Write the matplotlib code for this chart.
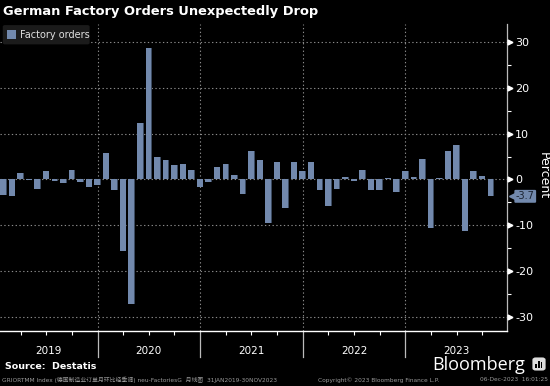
import matplotlib
matplotlib.use("Agg")
import matplotlib.pyplot as plt
import matplotlib.transforms as mtransforms
from matplotlib.patches import FancyBboxPatch, Rectangle
import numpy as np

# ---------------- data ----------------
values = [
    # 2019
    -3.5, -3.6, 1.4, -0.2, -2.1, 1.8, -0.4, -0.8, 2.1, -0.6, -1.6, -1.2,
    # 2020
    5.8, -2.3, -15.7, -27.3, 12.3, 28.7, 4.9, 4.2, 3.2, 3.4, 2.1, -1.6,
    # 2021
    -0.6, 2.7, 3.4, 1.0, -3.2, 6.2, 4.2, -9.5, 3.8, -6.3, 3.8, 1.8,
    # 2022
    3.8, -2.3, -5.8, -2.1, 0.5, -0.3, 2.1, -2.3, -2.3, 0.2, -2.8, 1.8,
    # 2023
    0.5, 4.4, -10.6, 0.2, 6.2, 7.5, -11.3, 1.8, 0.7, -3.7,
]
years = ["2019", "2020", "2021", "2022", "2023"]
y_ticks = [30, 20, 10, 0, -10, -20, -30]
y_minor = [25, 15, 5, -5, -15, -25]
last_label = "-3.7"

title = "German Factory Orders Unexpectedly Drop"
legend_label = "Factory orders"
source = "Source:  Destatis"
footer_left = "GRIORTMM Index (德国制造业订单月环比经季调) neu-FactoriesG  月线图  31JAN2019-30NOV2023"
footer_mid = "Copyright\u00a9 2023 Bloomberg Finance L.P."
footer_right = "06-Dec-2023  16:01:25"

# ---------------- style ----------------
BG = "black"
BAR = "#7289ad"
FG = "white"
GRID = "#8a8a8a"

fig = plt.figure(figsize=(5.5, 3.86), dpi=100, facecolor=BG)
ax = fig.add_axes([0.0, 0.1433, 0.9218, 0.7945], facecolor=BG)

x = np.arange(len(values))
ax.bar(x, values, width=0.76, color=BAR, edgecolor="none", zorder=3)
# subtle dark right-edge shadow as in the original
ax.bar(x + 0.34, values, width=0.08, color="#3b4a60", edgecolor="none", zorder=3.1)

ax.set_xlim(-0.41, 58.9)
ax.set_ylim(-33.1, 34.0)

# grid
for yt in y_ticks:
    ax.axhline(yt, color=GRID, lw=0.8, ls=(0, (1.2, 2.2)), zorder=1)
for k in range(1, len(years)):
    ax.axvline(12 * k - 1, color=GRID, lw=0.8, ls=(0, (1.2, 2.2)), zorder=1)

# spines
for s in ["top", "left"]:
    ax.spines[s].set_visible(False)
ax.spines["right"].set_color("#bbbbbb")
ax.spines["right"].set_linewidth(0.9)
ax.spines["bottom"].set_color(FG)
ax.spines["bottom"].set_linewidth(1.0)

# y axis on right
ax.yaxis.tick_right()
ax.set_yticks(y_ticks)
ax.set_yticklabels([str(v) for v in y_ticks])
ax.set_yticks(y_minor, minor=True)
ax.tick_params(axis="y", which="major", length=0, pad=6, labelsize=8, labelcolor=FG)
ax.tick_params(axis="y", which="minor", length=3, width=0.8, color=FG, direction="out")
trans_y = mtransforms.blended_transform_factory(ax.transAxes, ax.transData)
ax.plot([1.005] * len(y_ticks), y_ticks, ls="none", marker=">", ms=3.5, color=FG,
        transform=trans_y, clip_on=False, zorder=5)

# x axis: quarterly minor ticks, year separators
ax.set_xticks([])
q_ticks = [3 * q - 1 for q in range(1, 21) if (3 * q - 1) <= 58.9 and (3 * q) % 12 != 0]
ax.set_xticks(q_ticks, minor=True)
ax.tick_params(axis="x", which="minor", length=3, width=0.8, color=FG, direction="out")
trans_x = mtransforms.blended_transform_factory(ax.transData, ax.transAxes)
for k in range(1, len(years)):
    ax.plot([12 * k - 1, 12 * k - 1], [0, -0.085], color="#bbbbbb", lw=0.9,
            transform=trans_x, clip_on=False)
xmin, xmax = ax.get_xlim()
for k, yr in enumerate(years):
    lo = max(12 * k - 1, xmin)
    hi = min(12 * k + 11, xmax)
    ax.text((lo + hi) / 2, -0.065, yr, transform=trans_x, ha="center", va="center",
            color=FG, fontsize=7.5)

# last value label
ax.text(1.036, values[-1], last_label, transform=trans_y, ha="center", va="center",
        color="#1a2230", fontsize=7,
        bbox=dict(boxstyle="round,pad=0.15,rounding_size=0.12", fc=BAR, ec="none"),
        clip_on=False, zorder=6)
ax.plot([1.011], [values[-1]], marker="<", ms=5.5, color=BAR, transform=trans_y,
        clip_on=False, zorder=5.5)

# Percent label
fig.text(0.988, 0.545, "Percent", rotation=270, ha="center", va="center",
         color=FG, fontsize=9)

# legend
leg_box = FancyBboxPatch((0.005, 0.885), 0.158, 0.05, boxstyle="round,pad=0,rounding_size=0.004",
                         transform=fig.transFigure, fc="#1b1b1b", ec="none", zorder=0)
fig.patches.append(leg_box)
fig.patches.append(Rectangle((0.013, 0.898), 0.016, 0.023, transform=fig.transFigure,
                             fc=BAR, ec="none"))
fig.text(0.036, 0.909, legend_label, color="#e0e0e0", fontsize=7, va="center", ha="left")

# title
fig.text(0.005, 0.97, title, color=FG, fontsize=9.4, fontweight="bold",
         ha="left", va="center")

# source and footer
fig.text(0.009, 0.05, source, color=FG, fontsize=6.8, fontweight="bold",
         ha="left", va="center")
fig.text(0.004, 0.016, footer_left, color="#9a9a9a", fontsize=4.2, ha="left", va="center",
         family=["DejaVu Sans", "Noto Sans CJK SC"])
fig.text(0.578, 0.016, footer_mid, color="#9a9a9a", fontsize=4.2, ha="left", va="center")
fig.text(0.996, 0.016, footer_right, color="#9a9a9a", fontsize=4.2, ha="right", va="center")

# Bloomberg logo text
fig.text(0.955, 0.055, "Bloomberg", color=FG, fontsize=13, ha="right", va="center",
         family="Open Sans")
fig.patches.append(FancyBboxPatch((0.968, 0.04), 0.024, 0.034,
                                  boxstyle="round,pad=0,rounding_size=0.006",
                                  transform=fig.transFigure, fc="#dddddd", ec="none"))
for i, h in enumerate([0.010, 0.018, 0.014]):
    fig.patches.append(Rectangle((0.973 + i * 0.005, 0.047), 0.003, h,
                                 transform=fig.transFigure, fc="black", ec="none"))

fig.savefig("out.png", dpi=100, facecolor=BG)
